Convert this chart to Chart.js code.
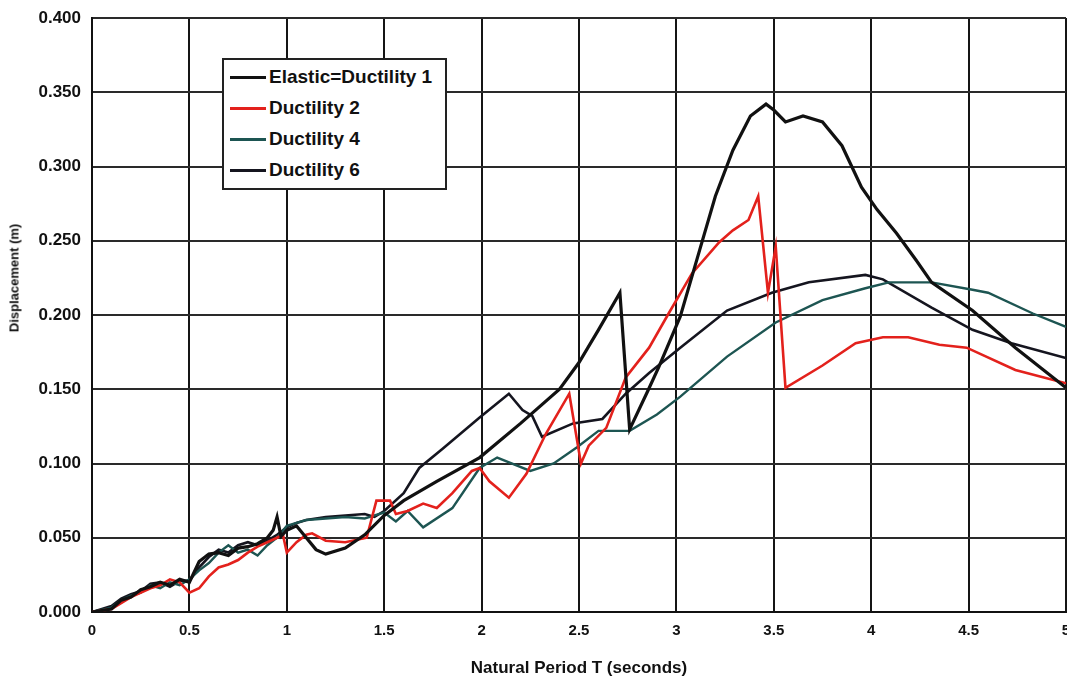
<!DOCTYPE html>
<html>
<head>
<meta charset="utf-8">
<script src="https://cdn.jsdelivr.net/npm/chart.js@4.4.1/dist/chart.umd.min.js"></script>
<style>
  body { margin: 0; background: #fff; }
  #wrap { position: relative; width: 1067px; height: 687px; overflow: hidden; }
  #legend {
    position: absolute; left: 222px; top: 58px; width: 221px; height: 128px;
    border: 2px solid #222; background: #fff;
    font-family: 'Liberation Sans', Arial, sans-serif; font-weight: bold; font-size: 19px; color: #111;
  }
  #legend .row { position: absolute; left: 6px; height: 22px; line-height: 22px; white-space: nowrap; }
  #legend .sw { display: inline-block; width: 36px; height: 3px; vertical-align: middle; margin-right: 3px; }
  #ytitle {
    position: absolute; left: 14px; top: 278px; transform: translate(-50%, -50%) rotate(-90deg);
    font-family: 'Liberation Sans', Arial, sans-serif; font-weight: bold; font-size: 13px; color: #111; white-space: nowrap;
  }
</style>
</head>
<body>
<div id="wrap">
  <canvas id="chart" width="1067" height="687"></canvas>
  <div id="legend"></div>
  <div id="ytitle">Displacement (m)</div>
</div>
<script>
// ------------------------------------------------------------
// Données (période T en s, déplacement en m)
// ------------------------------------------------------------
const elasticT = [0, 0.1, 0.15, 0.2, 0.25, 0.3, 0.35, 0.4, 0.45, 0.5, 0.55, 0.6, 0.65, 0.7, 0.75, 0.8, 0.85, 0.9, 0.93, 0.95, 0.97, 1.0, 1.05, 1.1, 1.15, 1.2, 1.3, 1.4, 1.5, 1.6, 1.77, 1.99, 2.2, 2.4, 2.5, 2.6, 2.71, 2.76, 2.85, 2.91, 3.02, 3.12, 3.2, 3.29, 3.38, 3.46, 3.5, 3.56, 3.65, 3.75, 3.85, 3.95, 4.03, 4.13, 4.23, 4.31, 4.52, 4.74, 5.0];
const elasticD = [0, 0.002, 0.008, 0.01, 0.015, 0.017, 0.02, 0.018, 0.022, 0.02, 0.034, 0.039, 0.04, 0.038, 0.043, 0.044, 0.046, 0.05, 0.055, 0.064, 0.051, 0.055, 0.058, 0.05, 0.042, 0.039, 0.043, 0.052, 0.065, 0.075, 0.088, 0.104, 0.127, 0.15, 0.168, 0.19, 0.215, 0.123, 0.148, 0.165, 0.199, 0.244, 0.28, 0.311, 0.334, 0.342, 0.338, 0.33, 0.334, 0.33, 0.314, 0.286, 0.271, 0.255, 0.237, 0.222, 0.203, 0.178, 0.151];

const duct2T = [0, 0.1, 0.2, 0.3, 0.35, 0.4, 0.45, 0.5, 0.55, 0.6, 0.65, 0.7, 0.75, 0.8, 0.85, 0.9, 0.95, 0.98, 1.0, 1.05, 1.1, 1.13, 1.2, 1.3, 1.41, 1.46, 1.53, 1.56, 1.62, 1.7, 1.77, 1.85, 1.95, 1.99, 2.04, 2.14, 2.23, 2.33, 2.45, 2.51, 2.55, 2.64, 2.74, 2.86, 2.96, 3.08, 3.22, 3.29, 3.37, 3.42, 3.47, 3.51, 3.56, 3.75, 3.92, 4.06, 4.19, 4.35, 4.49, 4.74, 5.0];
const duct2D = [0, 0.002, 0.01, 0.016, 0.018, 0.022, 0.02, 0.013, 0.016, 0.024, 0.03, 0.032, 0.035, 0.04, 0.044, 0.047, 0.05, 0.052, 0.04, 0.047, 0.052, 0.053, 0.048, 0.047, 0.05, 0.075, 0.075, 0.066, 0.068, 0.073, 0.07, 0.08, 0.095, 0.097, 0.088, 0.077, 0.093, 0.12, 0.147, 0.1, 0.112, 0.124, 0.158, 0.178, 0.201, 0.228, 0.249, 0.257, 0.264, 0.28, 0.215, 0.246, 0.151, 0.166, 0.181, 0.185, 0.185, 0.18, 0.178, 0.163, 0.154];

const duct4T = [0, 0.1, 0.15, 0.2, 0.25, 0.3, 0.35, 0.4, 0.45, 0.5, 0.55, 0.6, 0.65, 0.7, 0.75, 0.8, 0.85, 0.9, 0.95, 1.0, 1.05, 1.1, 1.2, 1.3, 1.4, 1.45, 1.5, 1.56, 1.62, 1.7, 1.85, 1.99, 2.08, 2.25, 2.37, 2.49, 2.6, 2.76, 2.9, 3.02, 3.26, 3.51, 3.75, 3.97, 4.09, 4.31, 4.52, 4.6, 4.83, 5.0];
const duct4D = [0, 0.003, 0.008, 0.011, 0.013, 0.018, 0.016, 0.02, 0.018, 0.022, 0.028, 0.033, 0.04, 0.045, 0.04, 0.042, 0.038, 0.045, 0.05, 0.058, 0.06, 0.062, 0.063, 0.064, 0.063, 0.065, 0.067, 0.061, 0.068, 0.057, 0.07, 0.097, 0.104, 0.095, 0.1, 0.111, 0.122, 0.122, 0.133, 0.145, 0.172, 0.195, 0.21, 0.218, 0.222, 0.222, 0.217, 0.215, 0.201, 0.192];

const duct6T = [0, 0.1, 0.15, 0.2, 0.25, 0.3, 0.35, 0.4, 0.45, 0.5, 0.55, 0.6, 0.65, 0.7, 0.75, 0.8, 0.85, 0.9, 0.95, 1.0, 1.05, 1.1, 1.2, 1.3, 1.4, 1.45, 1.5, 1.6, 1.68, 1.8, 1.99, 2.14, 2.21, 2.26, 2.31, 2.47, 2.62, 2.74, 2.86, 3.02, 3.26, 3.49, 3.68, 3.97, 4.06, 4.31, 4.52, 4.72, 5.0];
const duct6D = [0, 0.004, 0.009, 0.012, 0.014, 0.019, 0.02, 0.017, 0.021, 0.021, 0.03, 0.037, 0.042, 0.04, 0.045, 0.047, 0.045, 0.048, 0.052, 0.057, 0.06, 0.062, 0.064, 0.065, 0.066, 0.064, 0.068, 0.08, 0.097, 0.11, 0.131, 0.147, 0.136, 0.132, 0.118, 0.127, 0.13, 0.147, 0.161, 0.178, 0.203, 0.215, 0.222, 0.227, 0.224, 0.205, 0.19, 0.181, 0.171];

const seriesNames = ['Elastic=Ductility 1', 'Ductility 2', 'Ductility 4', 'Ductility 6'];
const seriesColors = ['#111111', '#e3211c', '#1d5552', '#15151f'];
const seriesWidths = [3.2, 2.6, 2.4, 2.6];

const toPoints = (t, d) => t.map((x, i) => ({ x: x, y: d[i] }));
const allSeries = [
    toPoints(elasticT, elasticD),
    toPoints(duct2T, duct2D),
    toPoints(duct4T, duct4D),
    toPoints(duct6T, duct6D)
];

const FONT = "'Liberation Sans', Arial, sans-serif";

// Légende en HTML (cadre en haut à gauche du graphique)
const legend = document.getElementById('legend');
seriesNames.forEach((name, i) => {
    const row = document.createElement('div');
    row.className = 'row';
    row.style.top = (6 + i * 31) + 'px';
    row.innerHTML = '<span class="sw" style="background:' + seriesColors[i] + '"></span>' + name;
    legend.appendChild(row);
});

new Chart(document.getElementById('chart'), {
    type: 'line',
    data: {
        datasets: allSeries.map((pts, i) => ({
            label: seriesNames[i],
            data: pts,
            borderColor: seriesColors[i],
            borderWidth: seriesWidths[i],
            pointRadius: 0,
            tension: 0,
            fill: false
        }))
    },
    options: {
        responsive: false,
        animation: false,
        layout: { padding: { top: 18, right: 1, left: 0, bottom: 0 } },
        plugins: { legend: { display: false }, tooltip: { enabled: false } },
        scales: {
            x: {
                type: 'linear', min: 0, max: 5,
                afterFit: s => { s.height = 75; s.paddingRight = 0; s.paddingLeft = 0; },
                ticks: {
                    stepSize: 0.5, padding: 10, color: '#111',
                    font: { family: FONT, size: 15, weight: 'bold' },
                    callback: v => String(Number(v.toFixed(1)))
                },
                grid: { color: '#151515', lineWidth: 2, drawTicks: false },
                border: { color: '#111', width: 2 },
                title: {
                    display: true, text: 'Natural Period T (seconds)', color: '#111',
                    font: { family: FONT, size: 17, weight: 'bold' },
                    padding: { top: 0, bottom: 8 }
                }
            },
            y: {
                min: 0, max: 0.4,
                afterFit: s => { s.width = 92; s.paddingTop = 0; s.paddingBottom = 0; },
                ticks: {
                    stepSize: 0.05, padding: 11, color: '#111',
                    font: { family: FONT, size: 17, weight: 'bold' },
                    callback: v => v.toFixed(3)
                },
                grid: { color: '#2a2a2a', lineWidth: 2, drawTicks: false },
                border: { color: '#111', width: 2 }
            }
        }
    }
});
</script>
</body>
</html>
